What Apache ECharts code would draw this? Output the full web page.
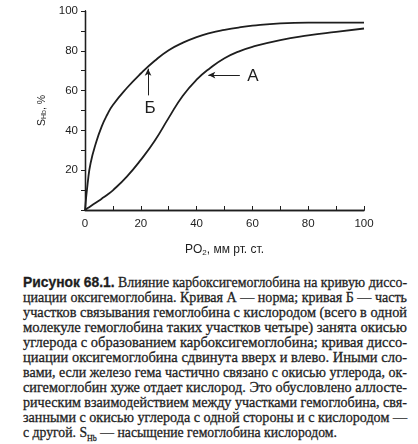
<!DOCTYPE html>
<html>
<head>
<meta charset="utf-8">
<script src="https://cdn.jsdelivr.net/npm/echarts@6/dist/echarts.min.js"></script>
<style>
body{margin:0;background:#fff;}
#main{position:absolute;left:0;top:0;width:418px;height:262px;}
#cap{position:absolute;left:23px;top:274px;width:384px;font-family:'Liberation Serif',serif;font-size:15.5px;line-height:15px;color:#1e1e1e;-webkit-text-stroke:0.3px #1e1e1e;}
#cap .ln{white-space:nowrap;height:15px;}
#cap .ln span{display:inline-block;transform-origin:0 50%;}
#cap b{font-family:'Liberation Sans',sans-serif;}
</style>
</head>
<body>
<div id="main"></div>
<div id="cap">
<div class="ln"><span><b>Рисунок 68.1.</b> Влияние карбоксигемоглобина на кривую диссо-</span></div>
<div class="ln"><span>циации оксигемоглобина. Кривая А — норма; кривая Б — часть</span></div>
<div class="ln"><span>участков связывания гемоглобина с кислородом (всего в одной</span></div>
<div class="ln"><span>молекуле гемоглобина таких участков четыре) занята окисью</span></div>
<div class="ln"><span>углерода с образованием карбоксигемоглобина; кривая диссо-</span></div>
<div class="ln"><span>циации оксигемоглобина сдвинута вверх и влево. Иными сло-</span></div>
<div class="ln"><span>вами, если железо гема частично связано с окисью углерода, ок-</span></div>
<div class="ln"><span>сигемоглобин хуже отдает кислород. Это обусловлено аллосте-</span></div>
<div class="ln"><span>рическим взаимодействием между участками гемоглобина, свя-</span></div>
<div class="ln"><span>занными с окисью углерода с одной стороны и с кислородом —</span></div>
<div class="ln"><span>с другой. S<sub style="font-size:9px;line-height:0">Hb</sub> — насыщение гемоглобина кислородом.</span></div>
</div>
<script>
// PO2, мм рт. ст.
var po2 = [0, 1, 2, 4, 6, 8, 10, 15, 20, 25, 30, 35, 40, 45, 50, 55, 60, 70, 80, 90, 100];
// кривая А - норма
var curveA = [0, 0.95, 1.9, 3.8, 5.7, 7.7, 9.9, 16.8, 25.2, 34.8, 46.3, 57.3, 65.5, 71.5, 76.3, 79.6, 82, 85.4, 87.7, 89.5, 91.2];
// кривая Б - с карбоксигемоглобином
var curveB = [0, 14, 23.5, 34, 42, 48, 52.8, 61.3, 68.6, 75, 80.3, 84, 86.9, 89, 90.5, 91.7, 92.6, 93.8, 94.2, 94.2, 94.2];

var ink = '#1e1e1e';
var font = 'Liberation Sans';

function pairs(xs, ys){
    var out = [];
    for (var i = 0; i < xs.length; i++) out.push([xs[i], ys[i]]);
    return out;
}

var chart = echarts.init(document.getElementById('main'), null, {renderer: 'canvas'});

var option = {
    animation: false,
    grid: {left: 85, right: 54, top: 11, bottom: 45},
    xAxis: [
        {
            type: 'value', min: 0, max: 100, interval: 20, position: 'bottom',
            name: '{t|PO}{sub|2}{t|, мм рт. ст.}',
            nameLocation: 'middle', nameGap: 33,
            nameTextStyle: {
                rich: {
                    t: {fontFamily: font, fontSize: 12, color: ink, lineHeight: 14},
                    sub: {fontFamily: font, fontSize: 8, color: ink, lineHeight: 14, verticalAlign: 'bottom', padding: [6, 0, 0, 0]}
                }
            },
            axisLine: {lineStyle: {color: ink, width: 1.3}},
            axisTick: {inside: true, length: 4, lineStyle: {color: ink}},
            minorTick: {show: true, splitNumber: 2, length: 4, lineStyle: {color: ink}},
            axisLabel: {fontFamily: font, fontSize: 11.5, color: ink, margin: 8},
            splitLine: {show: false}
        },
        {
            type: 'value', min: 0, max: 100, position: 'top',
            axisLine: {show: true, lineStyle: {color: ink, width: 1.3}},
            axisTick: {show: false}, axisLabel: {show: false}, splitLine: {show: false}
        }
    ],
    yAxis: [
        {
            type: 'value', min: 0, max: 100, interval: 20, position: 'left',
            name: '{t|S}{sub|Hb}{t|, %}',
            nameLocation: 'middle', nameGap: 36, nameRotate: 90,
            nameTextStyle: {
                rich: {
                    t: {fontFamily: font, fontSize: 10.5, color: ink, lineHeight: 12},
                    sub: {fontFamily: font, fontSize: 7, color: ink, lineHeight: 12, verticalAlign: 'bottom', padding: [5, 0, 0, 0]}
                }
            },
            axisLine: {show: true, lineStyle: {color: ink, width: 1.3}},
            axisTick: {inside: false, length: 4, lineStyle: {color: ink}},
            minorTick: {show: true, splitNumber: 2, length: 4, lineStyle: {color: ink}},
            axisLabel: {
                fontFamily: font, fontSize: 11.5, color: ink, margin: 7,
                formatter: function(v){ return v === 0 ? '' : v; }
            },
            splitLine: {show: false}
        },
        {
            type: 'value', min: 0, max: 100, position: 'right',
            axisLine: {show: true, lineStyle: {color: ink, width: 1.3}},
            axisTick: {show: false}, axisLabel: {show: false}, splitLine: {show: false}
        }
    ],
    series: [
        {
            name: 'А', type: 'line', smooth: 0.5, showSymbol: false,
            data: pairs(po2, curveA),
            lineStyle: {color: ink, width: 1.8},
            markLine: {
                silent: true, symbol: ['none', 'arrow'], symbolSize: [5, 7],
                lineStyle: {color: ink, width: 1, type: 'solid'},
                label: {show: false},
                data: [[{coord: [55.5, 67.8]}, {coord: [44.2, 67.8]}]]
            },
            markPoint: {
                symbol: 'rect', symbolSize: 1, itemStyle: {color: 'rgba(0,0,0,0)'},
                label: {show: true, position: 'inside', fontFamily: font, fontSize: 17, color: ink, formatter: 'А'},
                data: [{coord: [60.2, 67.2]}]
            }
        },
        {
            name: 'Б', type: 'line', smooth: 0.5, showSymbol: false,
            data: pairs(po2, curveB),
            lineStyle: {color: ink, width: 1.8},
            markLine: {
                silent: true, symbol: ['none', 'arrow'], symbolSize: [5, 7],
                lineStyle: {color: ink, width: 1, type: 'solid'},
                label: {show: false},
                data: [[{coord: [22.6, 57.6]}, {coord: [22.6, 71]}]]
            },
            markPoint: {
                symbol: 'rect', symbolSize: 1, itemStyle: {color: 'rgba(0,0,0,0)'},
                label: {show: true, position: 'inside', fontFamily: font, fontSize: 17, color: ink, formatter: 'Б'},
                data: [{coord: [23.3, 51]}]
            }
        }
    ]
};
chart.setOption(option);

// подгонка строк подписи по ширине
var spans = document.querySelectorAll('#cap .ln span');
for (var i = 0; i < spans.length; i++) {
    var w = spans[i].getBoundingClientRect().width;
    var target = (i === spans.length - 1) ? 314 : 384;
    spans[i].style.transform = 'scaleX(' + (target / w) + ')';
}
</script>
</body>
</html>
